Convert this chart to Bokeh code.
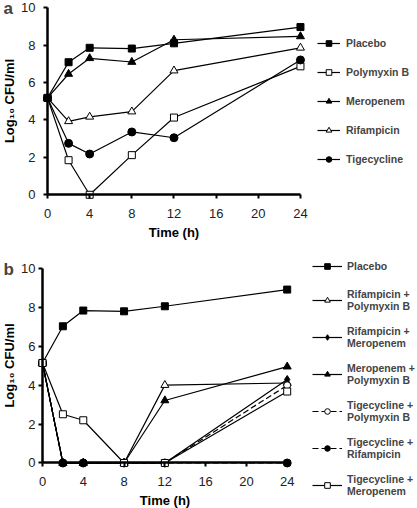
from bokeh.plotting import figure
from bokeh.models import Legend, LegendItem, Label, FixedTicker, Range1d
from bokeh.layouts import column
from bokeh.embed import file_html
from bokeh.resources import INLINE

FONT = "Liberation Sans"

times = [0, 2, 4, 8, 12, 24]
x_ticks = [0, 4, 8, 12, 16, 20, 24]
y_ticks = [0, 2, 4, 6, 8, 10]

# Panel a: single agents
a_placebo = [5.18, 7.09, 7.86, 7.82, 8.10, 8.97]
a_polymyxin = [5.18, 1.85, 0.0, 2.12, 4.13, 6.87]
a_meropenem = [5.18, 6.46, 7.30, 7.10, 8.29, 8.47]
a_rifampicin = [5.18, 3.93, 4.17, 4.45, 6.64, 7.86]
a_tigecycline = [5.18, 2.75, 2.18, 3.36, 3.05, 7.21]

# Panel b: combinations
b_placebo = [5.15, 7.04, 7.85, 7.81, 8.07, 8.93]
b_rif_poly = [5.15, 0.0, 0.0, 0.0, 4.01, 4.12]
b_rif_mero = [5.15, 0.0, 0.0, 0.0, 0.0, 4.30]
b_mero_poly = [5.15, 0.0, 0.0, 0.0, 3.22, 4.96]
b_tig_poly = [5.15, 0.0, 0.0, 0.0, 0.0, 4.00]
b_tig_rif = [5.15, 0.0, 0.0, 0.0, 0.0, 0.0]
b_tig_mero = [5.15, 2.51, 2.20, 0.0, 0.0, 3.68]

series_a = [
    ("Placebo", a_placebo, "square", "black", "solid", 7),
    ("Polymyxin B", a_polymyxin, "square", "white", "solid", 7),
    ("Meropenem", a_meropenem, "triangle", "black", "solid", 8),
    ("Rifampicin", a_rifampicin, "triangle", "white", "solid", 8),
    ("Tigecycline", a_tigecycline, "circle", "black", "solid", 8),
]
series_b = [
    ("Placebo", b_placebo, "square", "black", "solid", 7),
    ("Rifampicin +\nPolymyxin B", b_rif_poly, "triangle", "white", "solid", 8),
    ("Rifampicin +\nMeropenem", b_rif_mero, "diamond", "black", "solid", 8),
    ("Meropenem +\nPolymyxin B", b_mero_poly, "triangle", "black", "solid", 8),
    ("Tigecycline +\nPolymyxin B", b_tig_poly, "circle", "white", "6 3", 7),
    ("Tigecycline +\nRifampicin", b_tig_rif, "circle", "black", "6 3", 8),
    ("Tigecycline +\nMeropenem", b_tig_mero, "square", "white", "solid", 7),
]


def make_legend(items, loc, glyph_width, spacing, standoff):
    return Legend(items=items, location=loc, glyph_width=glyph_width,
                  glyph_height=14, label_height=14, label_standoff=standoff,
                  spacing=spacing, padding=0, margin=0,
                  border_line_color=None, background_fill_alpha=0,
                  label_text_font=FONT, label_text_font_style="bold",
                  label_text_font_size="10.5px", label_text_line_height=1.45)


def make_panel(series, letter, height, xr, yr, letter_xy, glyph_width, standoff,
               y_label_standoff, legend_specs):
    p = figure(width=417, height=height, x_range=Range1d(*xr), y_range=Range1d(*yr),
               output_backend="svg", toolbar_location=None,
               min_border_left=0, min_border_top=0,
               min_border_right=0, min_border_bottom=0)
    p.grid.visible = False
    p.outline_line_color = None
    p.background_fill_color = None
    p.border_fill_color = None
    p.xaxis.fixed_location = 0
    p.yaxis.fixed_location = 0
    p.xaxis.bounds = (0, 24)
    p.yaxis.bounds = (0, 10)
    p.xaxis.ticker = FixedTicker(ticks=x_ticks)
    p.yaxis.ticker = FixedTicker(ticks=y_ticks)
    p.xaxis.axis_label = "Time (h)"
    p.yaxis.axis_label = "Log\u2081\u2080 CFU/ml"
    for ax in (p.xaxis[0], p.yaxis[0]):
        ax.axis_line_width = 2.5
        ax.axis_line_color = "black"
        ax.major_tick_line_width = 2
        ax.major_tick_out = 4
        ax.major_tick_in = 0
        ax.minor_tick_line_color = None
        ax.major_label_text_font = FONT
        ax.major_label_text_font_size = "13px"
        ax.major_label_text_color = "#222222"
        ax.axis_label_text_font = FONT
        ax.axis_label_text_font_style = "bold"
        ax.axis_label_text_font_size = "13px"
        ax.axis_label_text_color = "black"
    p.xaxis.major_label_standoff = 10
    p.xaxis.axis_label_standoff = 4
    p.yaxis.major_label_standoff = y_label_standoff[0]
    p.yaxis.axis_label_standoff = y_label_standoff[1]
    items = []
    for name, vals, marker, fill, dash, size in series:
        r = p.line(times, vals, line_color="black", line_width=1.2, line_dash=dash)
        s = p.scatter(times, vals, marker=marker, size=size, fill_color=fill,
                      line_color="black", line_width=1)
        items.append(LegendItem(label=name, renderers=[r, s]))
    for start, stop, loc, spacing in legend_specs:
        p.add_layout(make_legend(items[start:stop], loc, glyph_width, spacing, standoff))
    p.add_layout(Label(x=letter_xy[0], y=letter_xy[1], text=letter, text_font=FONT,
                       text_font_style="bold", text_font_size="17px",
                       text_baseline="middle", text_align="left"))
    return p


pa = make_panel(series_a, "a", 246, (-4.459, 35.104), (-2.765, 10.39), (-4.17, 9.96),
                23, 6, (8, 1), [(0, 5, (317, 80), 15)])
pb = make_panel(series_b, "b", 262, (-4.119, 36.78), (-2.343, 11.148), (-3.83, 9.96),
                30, 5, (3, 1), [(0, 1, (312, 235), 0), (1, 7, (312, 11), 13)])

layout = column(pa, pb)
open("out.html", "w").write(file_html(layout, INLINE))
